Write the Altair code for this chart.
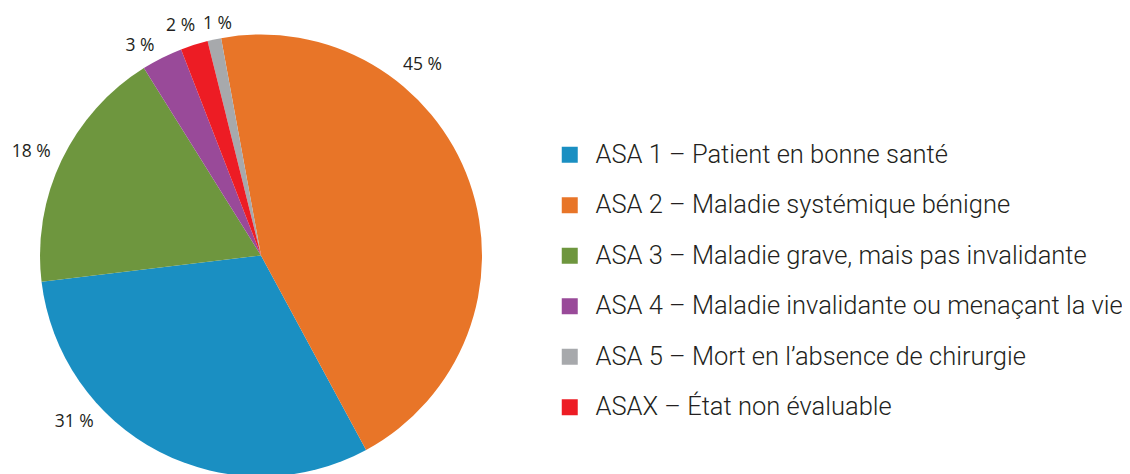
import math
import altair as alt
import pandas as pd

# Data
categories = [
    "ASA 1 – Patient en bonne santé",
    "ASA 2 – Maladie systémique bénigne",
    "ASA 3 – Maladie grave, mais pas invalidante",
    "ASA 4 – Maladie invalidante ou menaçant la vie",
    "ASA 5 – Mort en l’absence de chirurgie",
    "ASAX – État non évaluable",
]
values = [31, 45, 18, 3, 1, 2]
labels = ["31 %", "45 %", "18 %", "3 %", "1 %", "2 %"]
pie_order = [2, 1, 3, 4, 6, 5]  # clockwise order in the pie
colors = ["#1a8fc2", "#e87528", "#6e963e", "#994a99", "#a7a9ac", "#ed1c24"]

df = pd.DataFrame({"cat": categories, "value": values, "label": labels, "ord": pie_order})

TWO_PI = 2 * math.pi
start = TWO_PI - 0.1815
theta_scale = alt.Scale(domain=[0, 100], range=[start, start + TWO_PI])

color = alt.Color(
    "cat:N",
    scale=alt.Scale(domain=categories, range=colors),
    legend=alt.Legend(
        title=None, orient="none", legendX=549, legendY=134,
        symbolType="square", symbolSize=256, symbolStrokeWidth=0,
        labelFont="Roboto", labelFontWeight=300, labelFontSize=25.5,
        labelColor="#231f20", labelOffset=13, rowPadding=23.5,
        labelLimit=700,
    ),
)

CX, CY = 253, 247.5
FONT = dict(font="Open Sans", fontSize=17.5, color="#231f20")

base = (
    alt.Chart(df)
    .transform_window(cum="sum(value)", sort=[alt.SortField("ord")])
    .transform_calculate(
        start="datum.cum - datum.value",
        mid="datum.cum - datum.value / 2",
    )
)

pie = base.mark_arc(outerRadius=221, stroke=None).encode(
    theta=alt.Theta("start:Q", scale=theta_scale),
    theta2="cum:Q",
    color=color,
    x=alt.value(CX),
    y=alt.value(CY),
)

text_enc = dict(
    theta=alt.Theta("mid:Q", scale=theta_scale),
    text="label:N",
    x=alt.value(CX),
    y=alt.value(CY),
)


def label(filter_expr, **mark_kw):
    return base.mark_text(**FONT, **mark_kw).encode(**text_enc).transform_filter(filter_expr)


text_asa2 = label("datum.ord == 1", thetaOffset=TWO_PI - 0.53, radius=250)
text_asa1 = label("datum.ord == 2", thetaOffset=0.365, radius=250)
text_asa3 = label("datum.ord == 3", thetaOffset=TWO_PI - 0.023, radius=252)
text_asa4 = label("datum.ord == 4", thetaOffset=TWO_PI - 0.059, radius=242)
text_asax = label("datum.ord == 5", align="right", dx=7, radius=241)
text_asa5 = label("datum.ord == 6", align="left", dx=-8, radius=237)

chart = (pie + text_asa2 + text_asa1 + text_asa3 + text_asa4 + text_asax + text_asa5).properties(
    width=1114, height=466, padding=0,
    autosize=alt.AutoSizeParams(type="none"),
).configure_view(stroke=None)

chart.save("out.html", embed_options={"renderer": "svg", "actions": False})
